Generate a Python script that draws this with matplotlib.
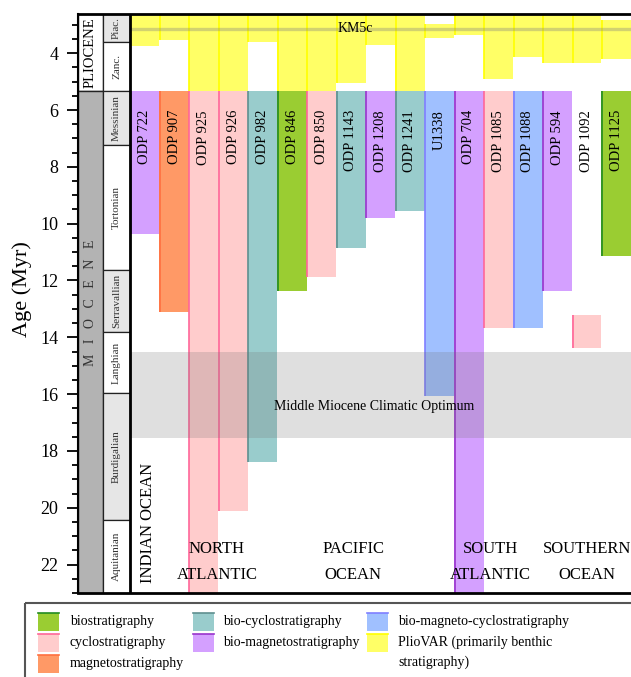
import matplotlib
matplotlib.use("Agg")
import matplotlib.pyplot as plt
from matplotlib.patches import Rectangle
from matplotlib.ticker import MultipleLocator

plt.rcParams["font.family"] = ["Liberation Serif", "DejaVu Serif"]

# geological time scale (Myr)
epoch_names = ["PLIOCENE", "M   I   O   C   E   N   E"]
epoch_bounds = [2.5, 5.333, 23.5]
stage_names = ["Piac.", "Zanc.", "Messinian", "Tortonian", "Serravallian",
               "Langhian", "Burdigalian", "Aquitanian"]
stage_bounds = [2.5, 3.6, 5.333, 7.246, 11.63, 13.82, 15.97, 20.44, 23.5]

# drill sites and their Miocene age model coverage
sites = ["ODP 722", "ODP 907", "ODP 925", "ODP 926", "ODP 982", "ODP 846",
         "ODP 850", "ODP 1143", "ODP 1208", "ODP 1241", "U1338", "ODP 704",
         "ODP 1085", "ODP 1088", "ODP 594", "ODP 1092", "ODP 1125"]
methods = ["bio-magneto", "magneto", "cyclo", "cyclo", "bio-cyclo", "bio",
           "cyclo", "bio-cyclo", "bio-magneto", "bio-cyclo", "bio-magneto-cyclo",
           "bio-magneto", "cyclo", "bio-magneto-cyclo", "bio-magneto", "cyclo", "bio"]
mio_top = [5.333, 5.333, 5.333, 5.333, 5.333, 5.333, 5.333, 5.333, 5.333,
           5.333, 5.333, 5.333, 5.333, 5.333, 5.333, 13.2, 5.333]
mio_base = [10.36, 13.11, 24.0, 20.12, 18.39, 12.37, 11.88, 10.86, 9.80,
            9.55, 16.07, 24.0, 13.67, 13.67, 12.37, 14.38, 11.14]

# PlioVAR coverage
plio_top = [2.5, 2.5, 2.5, 2.5, 2.5, 2.5, 2.5, 2.5, 2.5,
            2.5, 2.98, 2.5, 2.5, 2.5, 2.5, 2.5, 2.84]
plio_base = [3.74, 3.54, 5.333, 5.333, 3.60, 5.333, 5.333, 5.05, 3.72,
             5.333, 3.46, 3.37, 4.92, 4.13, 4.36, 4.36, 4.22]

mmco = [14.53, 17.55]
km5c = 3.14

fills = {"bio": "#9acd32", "cyclo": "#ffcccc", "magneto": "#ff9966",
         "bio-cyclo": "#99cccc", "bio-magneto": "#d4a0ff",
         "bio-magneto-cyclo": "#a0c0ff", "pliovar": "#ffff66"}
edges = {"bio": "#228b22", "cyclo": "#ff6699", "magneto": "#ff7040",
         "bio-cyclo": "#5f8f8f", "bio-magneto": "#9933cc",
         "bio-magneto-cyclo": "#7f7fff", "pliovar": "#ffff00"}

legend_keys = ["bio", "cyclo", "magneto", "bio-cyclo", "bio-magneto",
               "bio-magneto-cyclo", "pliovar"]
legend_labels = ["biostratigraphy", "cyclostratigraphy", "magnetostratigraphy",
                 "bio-cyclostratigraphy", "bio-magnetostratigraphy",
                 "bio-magneto-cyclostratigraphy",
                 "PlioVAR (primarily benthic\nstratigraphy)"]


def plot():
    W, H = 631, 677
    fig = plt.figure(figsize=(W / 100, H / 100), dpi=100)
    ax = fig.add_axes([78 / W, (H - 593) / H, (633 - 78) / W, (593 - 14) / H])

    x_ep, x_st = -1.763, -0.915
    ax.set_xlim(x_ep, 17.07)
    ax.set_ylim(23.0, 2.62)

    # time scale column
    for k, name in enumerate(epoch_names):
        t, b = epoch_bounds[k], epoch_bounds[k + 1]
        ax.add_patch(Rectangle((x_ep, t), x_st - x_ep, b - t,
                               facecolor="white" if k == 0 else "#b3b3b3",
                               edgecolor="#222222", lw=1, zorder=2))
    ax.text((x_ep + x_st) / 2, (2.62 + 5.333) / 2, epoch_names[0], rotation=90,
            ha="center", va="center", fontsize=10.5, zorder=3)
    ax.text((x_ep + x_st) / 2, 12.8, epoch_names[1], rotation=90,
            ha="center", va="center", fontsize=10, color="#333333", zorder=3)

    for k, name in enumerate(stage_names):
        t, b = stage_bounds[k], stage_bounds[k + 1]
        ax.add_patch(Rectangle((x_st, t), -x_st, b - t,
                               facecolor="#e6e6e6" if k % 2 == 0 else "white",
                               edgecolor="#222222", lw=0.9, zorder=2))
        mid = (max(t, 2.62) + min(b, 23.0)) / 2
        ax.text(x_st / 2, mid, name, rotation=90, ha="center", va="center",
                fontsize=8, color="#333333", zorder=3)

    # Miocene age models
    for i in range(len(sites)):
        m = methods[i]
        ax.bar(i, mio_base[i] - mio_top[i], bottom=mio_top[i], width=1,
               align="edge", color=fills[m], lw=0, zorder=2)
        ax.vlines(i + 0.02, mio_top[i], mio_base[i], color=edges[m], lw=1.2, zorder=3)
        ax.text(i + 0.5, 6.0, sites[i], rotation=90, ha="center", va="top",
                fontsize=10.5, zorder=5)

    # PlioVAR
    for i in range(len(sites)):
        ax.bar(i, plio_base[i] - plio_top[i], bottom=plio_top[i], width=1,
               align="edge", color=fills["pliovar"], lw=0, zorder=2)
        ax.vlines(i + 0.02, plio_top[i], plio_base[i], color=edges["pliovar"],
                  lw=1.2, zorder=3)

    ax.hlines(km5c, 0, 17.07, color="#808080", alpha=0.35, lw=2.4, zorder=4)
    ax.text(7.63, km5c, "KM5c", ha="center", va="center", fontsize=10, zorder=5)

    ax.add_patch(Rectangle((0, mmco[0]), 17.07, mmco[1] - mmco[0],
                           facecolor="#707070", alpha=0.22, lw=0, zorder=4))
    ax.text(8.3, 16.45, "Middle Miocene Climatic Optimum", ha="center",
            va="center", fontsize=10, zorder=5)

    # ocean basins
    ax.text(0.6, 22.66, "INDIAN OCEAN", rotation=90, ha="center", va="bottom",
            fontsize=12, zorder=5)
    regions = [(2.95, "NORTH", "ATLANTIC"), (7.58, "PACIFIC", "OCEAN"),
               (12.22, "SOUTH", "ATLANTIC"), (15.52, "SOUTHERN", "OCEAN")]
    for xr, l1, l2 in regions:
        ax.text(xr, 21.46, l1, ha="center", va="center", fontsize=12, zorder=5)
        ax.text(xr, 22.37, l2, ha="center", va="center", fontsize=12, zorder=5)

    ax.axvline(0, color="black", lw=2, zorder=6)

    ax.set_yticks(range(4, 23, 2))
    ax.yaxis.set_minor_locator(MultipleLocator(0.5))
    ax.tick_params(axis="y", which="major", length=8, width=1.3, labelsize=13, pad=6)
    ax.tick_params(axis="y", which="minor", length=4.5, width=1.3)
    ax.set_xticks([])
    ax.set_ylabel("Age (Myr)", fontsize=16)
    ax.yaxis.set_label_coords(-0.082, 0.525)
    ax.spines["right"].set_visible(False)
    ax.spines["top"].set_linewidth(2)
    ax.spines["bottom"].set_linewidth(2)
    ax.spines["left"].set_linewidth(1.5)
    for s in ax.spines.values():
        s.set_zorder(7)

    # legend drawn in pixel coordinates
    lax = fig.add_axes([0, 0, 1, 1])
    lax.set_xlim(0, W)
    lax.set_ylim(H, 0)
    lax.axis("off")
    lax.add_patch(Rectangle((25, 603), 700, 120, facecolor="none",
                            edgecolor="#555555", lw=1.5))
    cols = [(38, 70), (193, 223), (367, 398)]
    slots = [(0, 0), (0, 1), (0, 2), (1, 0), (1, 1), (2, 0), (2, 1)]
    for k, key in enumerate(legend_keys):
        c, r = slots[k]
        px, tx = cols[c]
        yc = 622 + r * 21
        lax.add_patch(Rectangle((px, yc - 9), 21, 18, facecolor=fills[key], lw=0))
        lax.plot([px, px + 21], [yc - 9, yc - 9], color=edges[key], lw=1.2)
        lax.text(tx, yc - 7, legend_labels[k], ha="left", va="top", fontsize=10,
                 linespacing=1.55)

    fig.savefig("out.png", dpi=100)


if __name__ == "__main__":
    plot()
